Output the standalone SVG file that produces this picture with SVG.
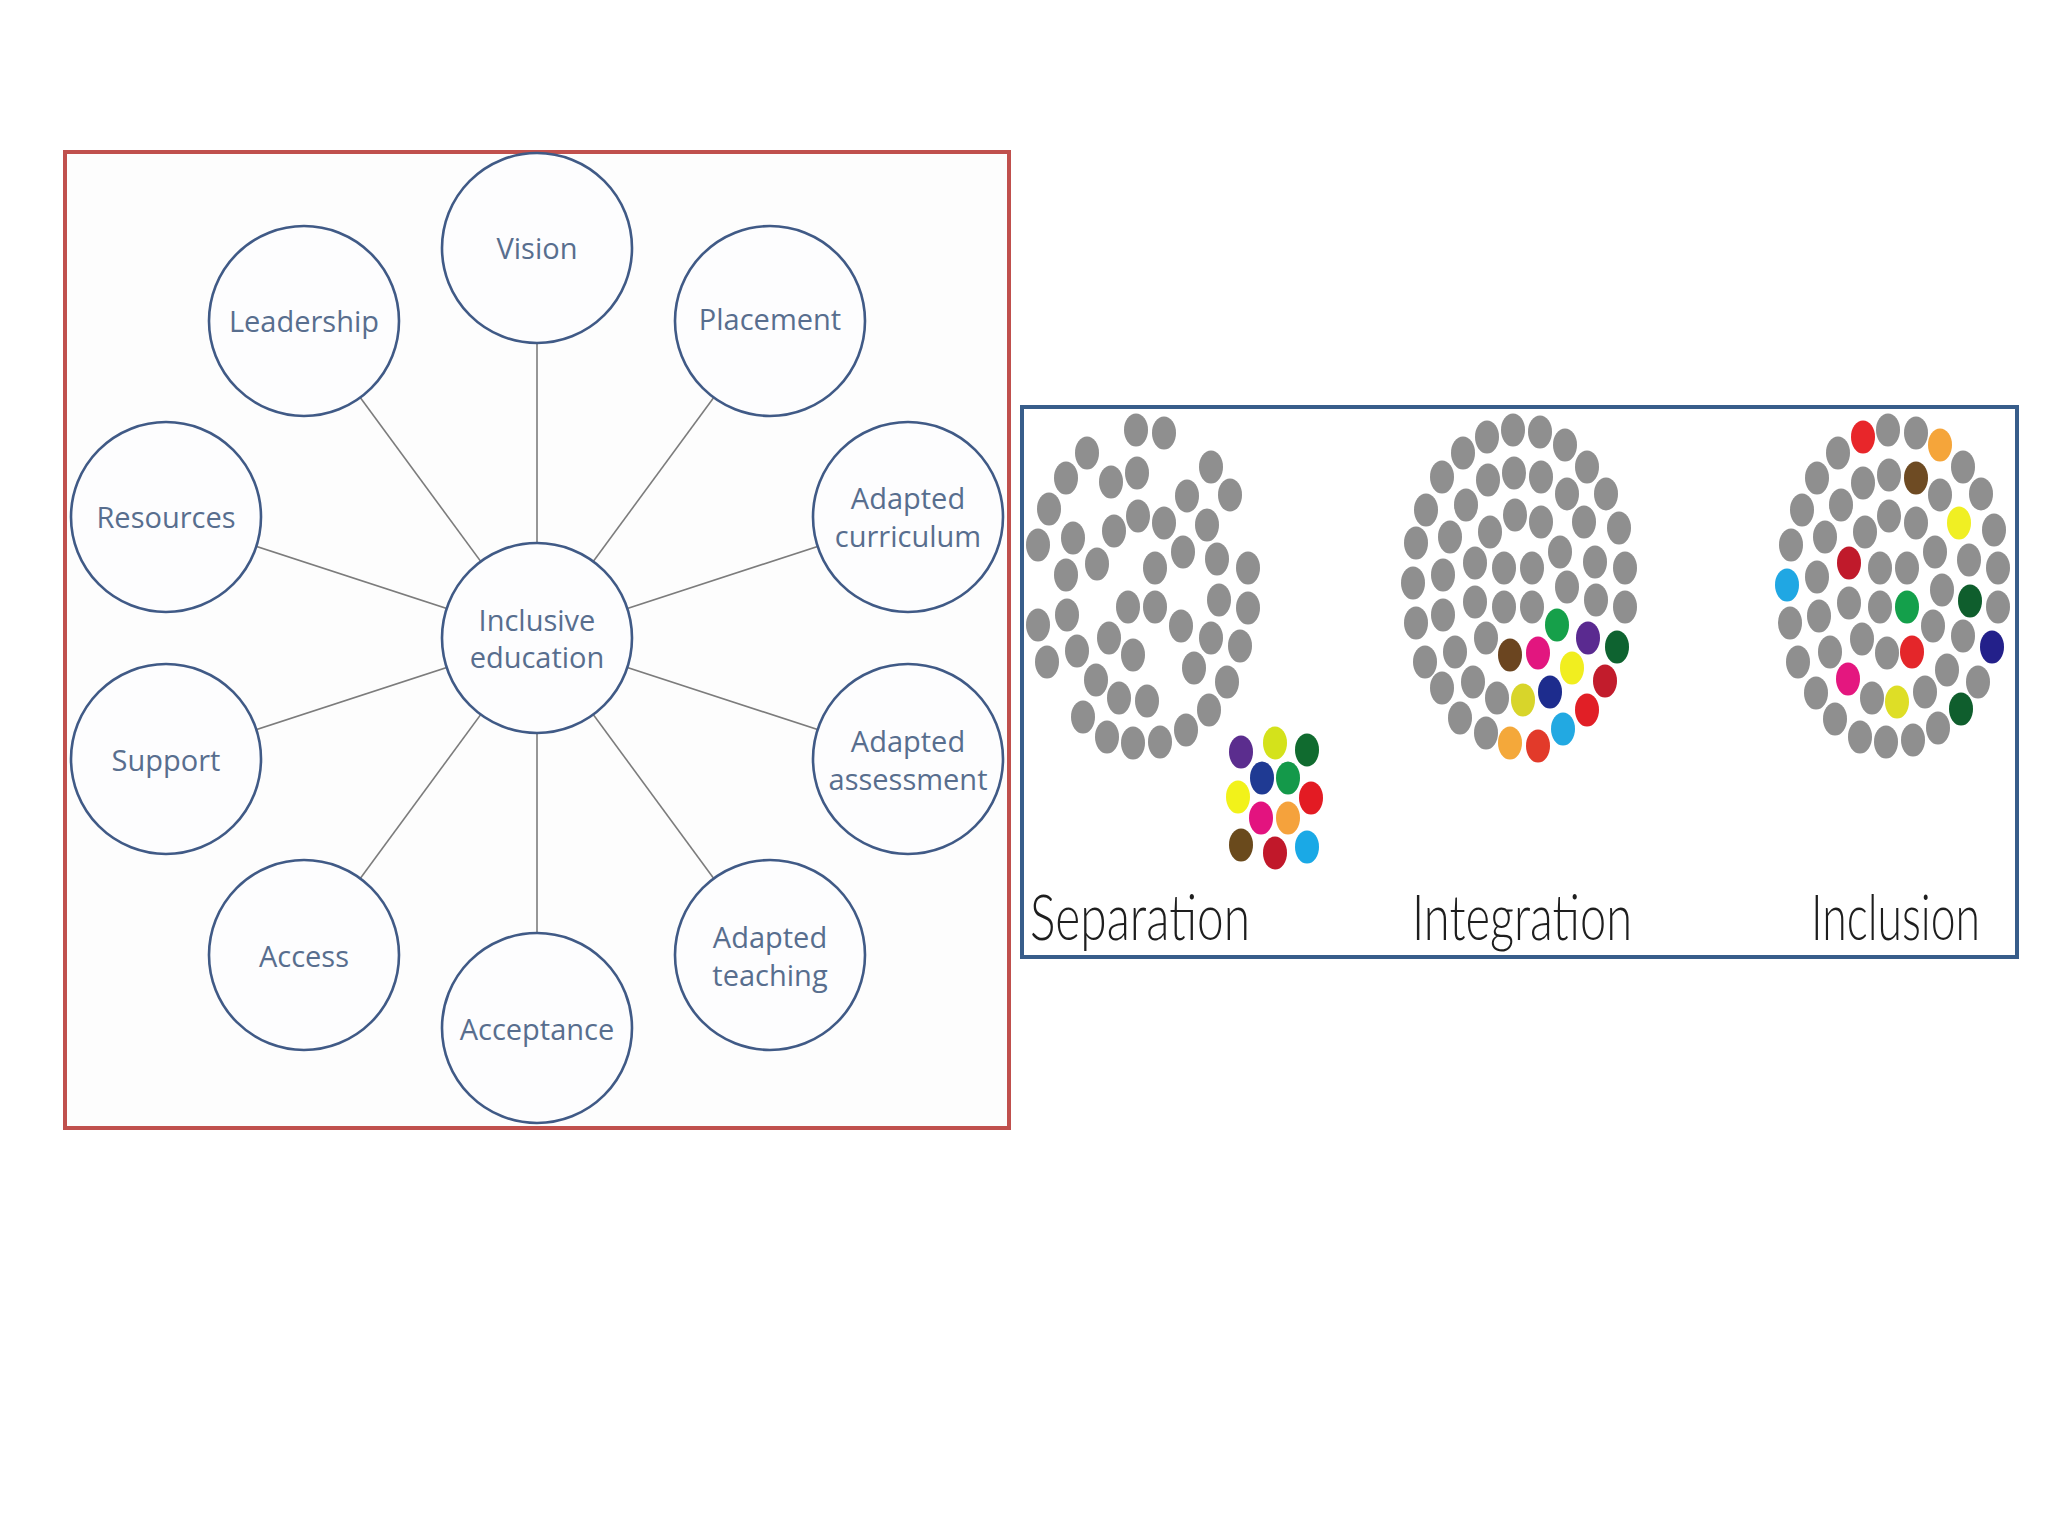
<svg xmlns="http://www.w3.org/2000/svg" xmlns:xlink="http://www.w3.org/1999/xlink" width="2048" height="1536" viewBox="0 0 2048 1536">
<style>
.frame-red{fill:#fdfdfd;stroke:#c0504d;stroke-width:4}
.frame-blue{fill:#ffffff;stroke:#385d8a;stroke-width:4}
.node circle{fill:#fdfdfe;stroke:#405a86;stroke-width:2.6}
.node text{font-family:"Open Sans","Liberation Sans",sans-serif;font-size:29px;fill:#586e8e;text-anchor:middle}
.conn line{stroke:#7c7c7c;stroke-width:1.6}
.cap{font-family:Lato,"DejaVu Sans",sans-serif;font-weight:300;font-size:63px;fill:#1e1e1e}
</style>
<defs>
<ellipse id="d" cx="0" cy="0" rx="12" ry="16.5"/>
</defs>
<rect x="0" y="0" width="2048" height="1536" fill="#ffffff"/>

<!-- Left diagram -->
<rect class="frame-red" x="65" y="152" width="944" height="976"/>
<g id="connectors" class="conn">
<line x1="537" y1="638" x2="537" y2="248"/>
<line x1="537" y1="638" x2="770" y2="321"/>
<line x1="537" y1="638" x2="908" y2="517"/>
<line x1="537" y1="638" x2="908" y2="759"/>
<line x1="537" y1="638" x2="770" y2="955"/>
<line x1="537" y1="638" x2="537" y2="1028"/>
<line x1="537" y1="638" x2="304" y2="955"/>
<line x1="537" y1="638" x2="166" y2="759"/>
<line x1="537" y1="638" x2="166" y2="517"/>
<line x1="537" y1="638" x2="304" y2="321"/>
</g>
<g id="node-inclusive-education" class="node"><circle cx="537" cy="638" r="95"/><text x="537" y="631">Inclusive</text><text x="537" y="668">education</text></g>
<g id="node-vision" class="node"><circle cx="537" cy="248" r="95"/><text x="537" y="259">Vision</text></g>
<g id="node-placement" class="node"><circle cx="770" cy="321" r="95"/><text x="770" y="330">Placement</text></g>
<g id="node-adapted-curriculum" class="node"><circle cx="908" cy="517" r="95"/><text x="908" y="509">Adapted</text><text x="908" y="547">curriculum</text></g>
<g id="node-adapted-assessment" class="node"><circle cx="908" cy="759" r="95"/><text x="908" y="752">Adapted</text><text x="908" y="790">assessment</text></g>
<g id="node-adapted-teaching" class="node"><circle cx="770" cy="955" r="95"/><text x="770" y="948">Adapted</text><text x="770" y="986">teaching</text></g>
<g id="node-acceptance" class="node"><circle cx="537" cy="1028" r="95"/><text x="537" y="1040">Acceptance</text></g>
<g id="node-access" class="node"><circle cx="304" cy="955" r="95"/><text x="304" y="967">Access</text></g>
<g id="node-support" class="node"><circle cx="166" cy="759" r="95"/><text x="166" y="771">Support</text></g>
<g id="node-resources" class="node"><circle cx="166" cy="517" r="95"/><text x="166" y="528">Resources</text></g>
<g id="node-leadership" class="node"><circle cx="304" cy="321" r="95"/><text x="304" y="332">Leadership</text></g>

<!-- Right picture -->
<rect class="frame-blue" x="1022" y="407" width="995" height="550"/>

<g id="separation" fill="#8f8f8f">
<use href="#d" x="1136" y="430"/><use href="#d" x="1164" y="433"/><use href="#d" x="1087" y="453"/><use href="#d" x="1211" y="467"/>
<use href="#d" x="1066" y="478"/><use href="#d" x="1111" y="482"/><use href="#d" x="1137" y="473"/><use href="#d" x="1187" y="496"/>
<use href="#d" x="1230" y="495"/><use href="#d" x="1049" y="509"/><use href="#d" x="1138" y="516"/><use href="#d" x="1164" y="523"/>
<use href="#d" x="1114" y="531"/><use href="#d" x="1207" y="525"/><use href="#d" x="1073" y="538"/><use href="#d" x="1038" y="545"/>
<use href="#d" x="1183" y="552"/><use href="#d" x="1097" y="564"/><use href="#d" x="1155" y="568"/><use href="#d" x="1217" y="559"/>
<use href="#d" x="1248" y="568"/><use href="#d" x="1066" y="575"/><use href="#d" x="1128" y="607"/><use href="#d" x="1155" y="607"/>
<use href="#d" x="1219" y="600"/><use href="#d" x="1248" y="608"/><use href="#d" x="1067" y="615"/><use href="#d" x="1038" y="625"/>
<use href="#d" x="1181" y="626"/><use href="#d" x="1109" y="638"/><use href="#d" x="1211" y="638"/><use href="#d" x="1240" y="646"/>
<use href="#d" x="1077" y="651"/><use href="#d" x="1133" y="655"/><use href="#d" x="1047" y="662"/><use href="#d" x="1194" y="668"/>
<use href="#d" x="1096" y="680"/><use href="#d" x="1227" y="682"/><use href="#d" x="1119" y="698"/><use href="#d" x="1147" y="701"/>
<use href="#d" x="1209" y="710"/><use href="#d" x="1083" y="717"/><use href="#d" x="1107" y="737"/><use href="#d" x="1133" y="743"/>
<use href="#d" x="1160" y="742"/><use href="#d" x="1186" y="730"/>
<use href="#d" x="1241" y="752" fill="#5b2d8e"/><use href="#d" x="1275" y="743" fill="#d4e21b"/><use href="#d" x="1307" y="750" fill="#106b2f"/>
<use href="#d" x="1262" y="778" fill="#1f3a93"/><use href="#d" x="1288" y="778" fill="#14994a"/>
<use href="#d" x="1238" y="797" fill="#f2f21a"/><use href="#d" x="1311" y="798" fill="#e31b23"/>
<use href="#d" x="1261" y="818" fill="#e3137f"/><use href="#d" x="1288" y="818" fill="#f5a23c"/>
<use href="#d" x="1241" y="845" fill="#6a4a1c"/><use href="#d" x="1275" y="853" fill="#c1182a"/><use href="#d" x="1307" y="847" fill="#1aa9e6"/>
</g>

<g id="integration" fill="#8f8f8f">
<use href="#d" x="1513" y="430"/><use href="#d" x="1540" y="432"/><use href="#d" x="1487" y="437"/><use href="#d" x="1565" y="445"/>
<use href="#d" x="1463" y="453"/><use href="#d" x="1587" y="467"/><use href="#d" x="1442" y="477"/><use href="#d" x="1488" y="480"/>
<use href="#d" x="1514" y="473"/><use href="#d" x="1541" y="477"/><use href="#d" x="1567" y="494"/><use href="#d" x="1606" y="494"/>
<use href="#d" x="1426" y="510"/><use href="#d" x="1466" y="505"/><use href="#d" x="1515" y="515"/><use href="#d" x="1541" y="522"/>
<use href="#d" x="1490" y="532"/><use href="#d" x="1584" y="522"/><use href="#d" x="1619" y="528"/><use href="#d" x="1416" y="543"/>
<use href="#d" x="1450" y="537"/><use href="#d" x="1560" y="552"/><use href="#d" x="1475" y="563"/><use href="#d" x="1504" y="568"/>
<use href="#d" x="1532" y="568"/><use href="#d" x="1595" y="562"/><use href="#d" x="1625" y="568"/><use href="#d" x="1413" y="583"/>
<use href="#d" x="1443" y="575"/><use href="#d" x="1567" y="587"/><use href="#d" x="1475" y="602"/><use href="#d" x="1504" y="607"/>
<use href="#d" x="1532" y="607"/><use href="#d" x="1596" y="600"/><use href="#d" x="1625" y="607"/><use href="#d" x="1416" y="623"/>
<use href="#d" x="1443" y="615"/><use href="#d" x="1486" y="638"/><use href="#d" x="1455" y="652"/><use href="#d" x="1425" y="662"/>
<use href="#d" x="1473" y="682"/><use href="#d" x="1442" y="688"/><use href="#d" x="1497" y="698"/><use href="#d" x="1460" y="718"/>
<use href="#d" x="1486" y="733"/>
<use href="#d" x="1557" y="625" fill="#16a04a"/><use href="#d" x="1588" y="638" fill="#5a2a90"/><use href="#d" x="1617" y="647" fill="#0e6330"/>
<use href="#d" x="1510" y="655" fill="#6b4520"/><use href="#d" x="1538" y="653" fill="#e2167f"/><use href="#d" x="1572" y="668" fill="#f1ee1f"/>
<use href="#d" x="1605" y="681" fill="#c21c2c"/><use href="#d" x="1523" y="700" fill="#d8d52a"/><use href="#d" x="1550" y="692" fill="#1d2c8d"/>
<use href="#d" x="1587" y="710" fill="#e11f26"/><use href="#d" x="1510" y="743" fill="#f4a83a"/><use href="#d" x="1538" y="746" fill="#e23a2a"/>
<use href="#d" x="1563" y="729" fill="#22a9e2"/>
</g>

<g id="inclusion" fill="#8f8f8f">
<use href="#d" x="1888" y="430"/><use href="#d" x="1916" y="433"/><use href="#d" x="1838" y="453"/><use href="#d" x="1963" y="467"/>
<use href="#d" x="1817" y="478"/><use href="#d" x="1863" y="483"/><use href="#d" x="1889" y="475"/><use href="#d" x="1940" y="495"/>
<use href="#d" x="1981" y="494"/><use href="#d" x="1802" y="510"/><use href="#d" x="1841" y="505"/><use href="#d" x="1889" y="516"/>
<use href="#d" x="1916" y="523"/><use href="#d" x="1865" y="532"/><use href="#d" x="1994" y="530"/><use href="#d" x="1791" y="545"/>
<use href="#d" x="1825" y="537"/><use href="#d" x="1935" y="552"/><use href="#d" x="1880" y="568"/><use href="#d" x="1907" y="568"/>
<use href="#d" x="1969" y="560"/><use href="#d" x="1998" y="568"/><use href="#d" x="1817" y="577"/><use href="#d" x="1942" y="590"/>
<use href="#d" x="1849" y="603"/><use href="#d" x="1880" y="607"/><use href="#d" x="1998" y="607"/><use href="#d" x="1790" y="623"/>
<use href="#d" x="1819" y="616"/><use href="#d" x="1933" y="626"/><use href="#d" x="1862" y="639"/><use href="#d" x="1963" y="636"/>
<use href="#d" x="1830" y="652"/><use href="#d" x="1887" y="653"/><use href="#d" x="1798" y="662"/><use href="#d" x="1947" y="670"/>
<use href="#d" x="1978" y="682"/><use href="#d" x="1816" y="693"/><use href="#d" x="1872" y="698"/><use href="#d" x="1925" y="692"/>
<use href="#d" x="1835" y="719"/><use href="#d" x="1860" y="737"/><use href="#d" x="1886" y="742"/><use href="#d" x="1913" y="740"/>
<use href="#d" x="1938" y="728"/>
<use href="#d" x="1863" y="437" fill="#e8262a"/><use href="#d" x="1940" y="445" fill="#f5a53a"/><use href="#d" x="1916" y="478" fill="#6e4b23"/>
<use href="#d" x="1959" y="523" fill="#f0ef23"/><use href="#d" x="1849" y="563" fill="#c01a2b"/><use href="#d" x="1787" y="585" fill="#20a7e3"/>
<use href="#d" x="1907" y="607" fill="#14a04b"/><use href="#d" x="1970" y="601" fill="#0f5e2d"/><use href="#d" x="1992" y="647" fill="#23208a"/>
<use href="#d" x="1912" y="652" fill="#e4262a"/><use href="#d" x="1848" y="679" fill="#e4177f"/><use href="#d" x="1897" y="702" fill="#dede26"/>
<use href="#d" x="1961" y="709" fill="#0f5e2d"/>
</g>

<g id="captions">
<text class="cap" x="1030" y="940" textLength="220" lengthAdjust="spacingAndGlyphs">Separation</text>
<text class="cap" x="1412" y="940" textLength="220" lengthAdjust="spacingAndGlyphs">Integration</text>
<text class="cap" x="1811" y="940" textLength="169" lengthAdjust="spacingAndGlyphs">Inclusion</text>
</g>
</svg>
